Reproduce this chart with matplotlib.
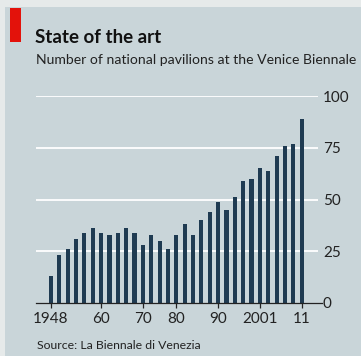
import numpy as np
import matplotlib.pyplot as plt
from matplotlib.patches import Rectangle

# Number of national pavilions per edition (no show in 1974)
years = [1948, 1950, 1952, 1954, 1956, 1958, 1960, 1962, 1964, 1966, 1968,
         1970, 1972, 1976, 1978, 1980, 1982, 1984, 1986, 1988, 1990,
         1993, 1995, 1997, 1999, 2001, 2003, 2005, 2007, 2009, 2011]
pavilions = [13, 23, 26, 31, 34, 36, 34, 33, 34, 36, 34,
             28, 33, 30, 26, 33, 38, 33, 40, 44, 49,
             45, 51, 59, 60, 65, 64, 71, 76, 77, 89]
tick_years = [1948, 1960, 1970, 1980, 1990, 2001, 2011]
tick_labels = ['1948', '60', '70', '80', '90', '2001', '11']
y_ticks = [0, 25, 50, 75, 100]

BG = '#c9d5d9'
BAR = '#1f3b52'
TXT = '#222222'
FONT = 'Lato'

W, H = 361, 356
fig = plt.figure(figsize=(W / 100, H / 100), dpi=100)
fig.patch.set_facecolor(BG)

# pale paper edge at top/left like the scan
fig.patches.append(Rectangle((0, 0), 5 / W, 1, transform=fig.transFigure,
                             facecolor='#e6eaea', edgecolor='none', zorder=0))
fig.patches.append(Rectangle((0, 1 - 7 / H), 1, 7 / H, transform=fig.transFigure,
                             facecolor='#e6eaea', edgecolor='none', zorder=0))
# red marker
fig.patches.append(Rectangle((10 / W, 1 - 42 / H), 11 / W, 34 / H,
                             transform=fig.transFigure, facecolor='#e3120b',
                             edgecolor='none', zorder=1))

fig.text(35 / W, 1 - 43 / H, 'State of the art', fontsize=13.5, fontweight='bold',
         family=FONT, color='#111111', va='baseline')
fig.text(36 / W, 1 - 64 / H, 'Number of national pavilions at the Venice Biennale',
         fontsize=10.1, family=FONT, color=TXT, va='baseline')
fig.text(37 / W, 1 - 349 / H, 'Source: La Biennale di Venezia',
         fontsize=8.8, family=FONT, color=TXT, va='baseline')

ax = fig.add_axes([36 / W, 1 - 303 / H, 282 / W, 207 / H])
ax.set_facecolor('none')

x = np.arange(len(years))
ax.bar(x, pavilions, width=0.5, color=BAR, zorder=3)

ax.set_ylim(0, 100)
ax.set_xlim(-1.79, 31.95)

for v in y_ticks[1:]:
    ax.axhline(v, color='white', lw=1.3, zorder=1)
ax.plot([0, 1.015], [0, 0], transform=ax.transAxes, color='#222222',
        lw=0.9, clip_on=False, zorder=4)

for s in ax.spines.values():
    s.set_visible(False)

ax.yaxis.tick_right()
ax.set_yticks(y_ticks)
ax.set_yticklabels([str(v) for v in y_ticks])
ax.tick_params(axis='y', length=0, pad=3.5, labelsize=11, labelcolor=TXT)

ax.set_xticks([years.index(y) for y in tick_years])
ax.set_xticklabels(tick_labels)
ax.tick_params(axis='x', length=3.5, width=0.9, color='#222222', pad=3,
               labelsize=11, labelcolor=TXT, direction='out')
for lab in ax.get_xticklabels() + ax.get_yticklabels():
    lab.set_family(FONT)

fig.savefig('out.png', dpi=100, facecolor=BG)
